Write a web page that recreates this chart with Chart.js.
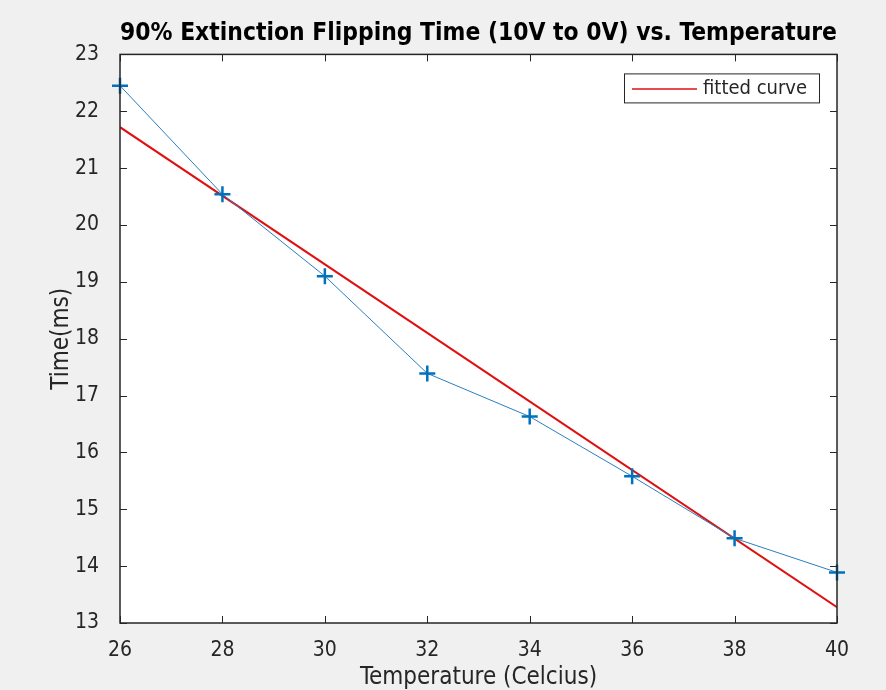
<!DOCTYPE html>
<html>
<head>
<meta charset="utf-8">
<script src="https://cdn.jsdelivr.net/npm/chart.js@4.4.1/dist/chart.umd.min.js"></script>
<style>
    html, body { margin: 0; padding: 0; background: #f0f0f0; }
    #wrap { width: 886px; height: 690px; }
</style>
</head>
<body>
<div id="wrap"><canvas id="chart" width="886" height="690"></canvas></div>
<script>
// Data

const temperatures = [26, 28, 30, 32, 34, 36, 38, 40];
const flipTimes = [22.45, 20.54, 19.10, 17.39, 16.63, 15.58, 14.49, 13.89];

const fitTemperatures = [26, 40];
const fitTimes = [21.72, 13.28];

const xTicks = [26, 28, 30, 32, 34, 36, 38, 40];
const yTicks = [13, 14, 15, 16, 17, 18, 19, 20, 21, 22, 23];

const axisColor = "#262626";
const fontFamily = "'DejaVu Sans Condensed', 'Open Sans', sans-serif";

// Plugins

const plotBox = {
    id: "plotBox",
    beforeDraw(chart) {
        const { ctx, chartArea: a } = chart;
        ctx.save();
        ctx.fillStyle = "#ffffff";
        ctx.fillRect(a.left, a.top, a.right - a.left, a.bottom - a.top);
        ctx.restore();
    },
    afterDraw(chart) {
        const { ctx, chartArea: a, scales } = chart;
        const tick = 7;
        ctx.save();
        ctx.strokeStyle = axisColor;
        ctx.lineWidth = 1;
        ctx.beginPath();
        xTicks.forEach(v => {
            let px = Math.round(scales.x.getPixelForValue(v)) + 0.5;
            ctx.moveTo(px, a.bottom); ctx.lineTo(px, a.bottom - tick);
            ctx.moveTo(px, a.top); ctx.lineTo(px, a.top + tick);
        });
        yTicks.forEach(v => {
            let py = Math.round(scales.y.getPixelForValue(v)) + 0.5;
            ctx.moveTo(a.left, py); ctx.lineTo(a.left + tick, py);
            ctx.moveTo(a.right, py); ctx.lineTo(a.right - tick, py);
        });
        ctx.stroke();
        ctx.lineWidth = 1.5;
        ctx.strokeRect(a.left, a.top, a.right - a.left, a.bottom - a.top);

        // legend (only the fitted curve is listed)
        const ds = chart.data.datasets[1];
        const boxRight = a.right - 18, boxTop = a.top + 19;
        const boxW = 195, boxH = 29;
        const bx = boxRight - boxW;
        ctx.fillStyle = "#ffffff";
        ctx.fillRect(bx, boxTop, boxW, boxH);
        ctx.lineWidth = 1;
        ctx.strokeStyle = axisColor;
        ctx.strokeRect(bx + 0.5, boxTop + 0.5, boxW, boxH);
        ctx.strokeStyle = ds.borderColor;
        ctx.lineWidth = 1.5;
        ctx.beginPath();
        ctx.moveTo(bx + 8, boxTop + 15.5);
        ctx.lineTo(bx + 73, boxTop + 15.5);
        ctx.stroke();
        ctx.fillStyle = axisColor;
        ctx.font = "20px " + fontFamily;
        ctx.textBaseline = "middle";
        ctx.fillText(ds.label, bx + 79, boxTop + 15);
        ctx.restore();
    }
};

// Chart

const ctx = document.getElementById("chart");

new Chart(ctx, {
    type: "line",
    data: {
        datasets: [{
            label: "data",
            data: temperatures.map((t, i) => ({ x: t, y: flipTimes[i] })),
            borderColor: "#2b7fc0",
            borderWidth: 1,
            pointStyle: "cross",
            pointRadius: 8,
            pointBorderWidth: 2.5,
            pointBorderColor: "#0072BD",
            pointBackgroundColor: "#0072BD",
            tension: 0,
            clip: false,
        },
        {
            label: "fitted curve",
            data: fitTemperatures.map((t, i) => ({ x: t, y: fitTimes[i] })),
            borderColor: "#e01010",
            borderWidth: 2,
            pointRadius: 0,
            tension: 0,
        }],
    },
    options: {
        responsive: false,
        animation: false,
        layout: {
            padding: { left: 47, right: 49, top: 0, bottom: 0 },
        },
        plugins: {
            legend: { display: false },
            tooltip: { enabled: false },
            title: {
                display: true,
                fullSize: false,
                text: "90% Extinction Flipping Time (10V to 0V) vs. Temperature",
                color: "#000000",
                font: { family: fontFamily, size: 24.5, weight: "bold" },
                padding: { top: 19, bottom: 6 },
            },
        },
        scales: {
            x: {
                type: "linear",
                min: 26,
                max: 40,
                afterBuildTicks: scale => { scale.ticks = xTicks.map(v => ({ value: v })); },
                afterFit: scale => { scale.height = 67; },
                grid: { display: false },
                border: { display: false },
                ticks: {
                    color: axisColor,
                    padding: 7,
                    font: { family: fontFamily, size: 21 },
                },
                title: {
                    display: true,
                    text: "Temperature (Celcius)",
                    color: axisColor,
                    padding: { top: 0, bottom: 0 },
                    font: { family: fontFamily, size: 24, lineHeight: 1.0 },
                },
            },
            y: {
                type: "linear",
                min: 13,
                max: 23,
                afterBuildTicks: scale => { scale.ticks = yTicks.map(v => ({ value: v })); },
                afterFit: scale => { scale.width = 73; },
                grid: { display: false },
                border: { display: false },
                ticks: {
                    color: axisColor,
                    padding: 13,
                    font: { family: fontFamily, size: 21 },
                },
                title: {
                    display: true,
                    text: "Time(ms)",
                    color: axisColor,
                    padding: { top: 0, bottom: 0 },
                    font: { family: fontFamily, size: 24 },
                },
            },
        },
    },
    plugins: [plotBox],
});
</script>
</body>
</html>
